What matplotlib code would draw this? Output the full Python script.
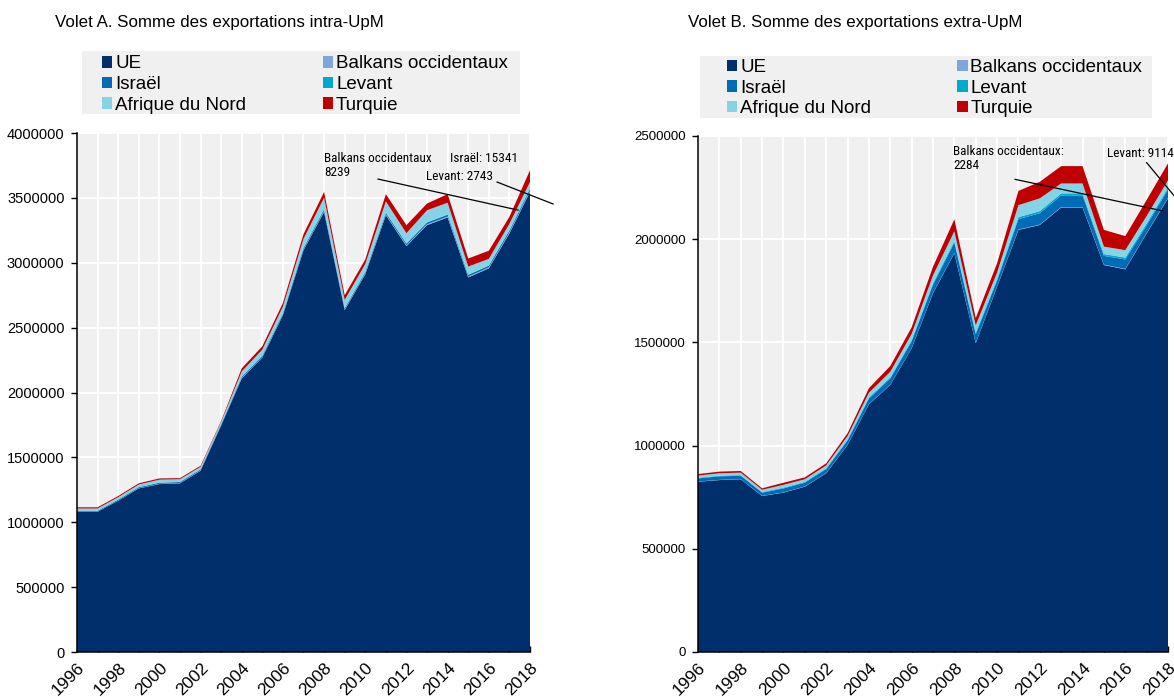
import matplotlib
matplotlib.use("Agg")
import matplotlib.pyplot as plt
from matplotlib.patches import Patch, Rectangle
from matplotlib import font_manager
import numpy as np

plt.rcParams['font.family'] = ['Liberation Sans', 'DejaVu Sans']

years = list(range(1996, 2019))
series_names = ["UE", "Balkans occidentaux", "Israël", "Levant", "Afrique du Nord", "Turquie"]
colors = ["#002F6C", "#7FA6D9", "#006BB6", "#00A9CE", "#86D3E6", "#C00000"]

# Volet A : exportations intra-UpM (milliers)
a_ue = [1081, 1081, 1166, 1261, 1294, 1300, 1397, 1745, 2108, 2270, 2596, 3097,
        3392, 2635, 2912, 3367, 3128, 3290, 3349, 2887, 2957, 3226, 3546]
a_balkans = [1.5, 1.5, 1.7, 2.0, 2.2, 2.3, 2.5, 2.8, 3.5, 4.0, 4.5, 5.5,
             6.5, 5.0, 5.5, 6.5, 6.5, 7.0, 7.5, 6.8, 7.0, 7.5, 8.239]
a_israel = [6.0, 6.0, 6.5, 7.0, 8.0, 7.5, 7.5, 8.0, 9.0, 9.5, 10.0, 11.0,
            12.0, 9.5, 10.5, 12.0, 12.5, 13.0, 13.5, 12.5, 13.0, 14.0, 15.341]
a_levant = [0.8, 0.8, 0.9, 1.0, 1.1, 1.1, 1.2, 1.3, 1.6, 1.8, 2.0, 2.3,
            2.6, 2.2, 2.4, 2.6, 2.5, 2.6, 2.7, 2.4, 2.5, 2.6, 2.743]
a_afrique = [17, 17, 18, 20, 23, 21, 19, 16, 40, 45, 50, 68,
             88, 62, 60, 85, 78, 92, 90, 62, 50, 50, 50]
a_turquie = [9, 9, 9, 9, 9.5, 8, 8, 7, 24, 26, 28, 36,
             45, 36, 35, 56, 62, 52, 66, 62, 63, 54, 91]

# Volet B : exportations extra-UpM (milliers)
b_ue = [825, 833, 837, 756, 772, 801, 866, 1003, 1200, 1294, 1471, 1738,
        1932, 1496, 1770, 2045, 2069, 2154, 2154, 1875, 1854, 2028, 2198]
b_balkans = [1.0, 1.0, 1.0, 1.0, 1.0, 1.0, 1.0, 1.0, 1.0, 1.0, 1.0, 1.5,
             1.5, 1.5, 1.5, 2.0, 2.0, 2.0, 2.0, 2.0, 2.0, 2.0, 2.284]
b_israel = [15, 17, 16, 15, 19.5, 18.5, 19.5, 21, 27, 30, 33, 40,
            50, 42, 28, 50, 55, 56, 56, 42, 46, 37, 40]
b_levant = [3.0, 3.0, 3.0, 3.0, 3.5, 3.5, 3.5, 4.0, 5.0, 5.5, 6.0, 7.0,
            8.0, 8.0, 7.0, 10.0, 10.0, 10.0, 10.0, 9.0, 9.0, 9.0, 9.114]
b_afrique = [11, 12, 12, 11, 14, 13, 14, 17, 23, 27, 30, 38,
             47, 35, 32, 58, 62, 48, 48, 36, 36, 36, 36]
b_turquie = [7, 8, 8, 7, 10, 9, 10, 14, 22, 28, 32, 42,
             58, 35, 45, 69, 80, 84, 84, 81, 68, 78, 82]

panel_a = [a_ue, a_balkans, a_israel, a_levant, a_afrique, a_turquie]
panel_b = [b_ue, b_balkans, b_israel, b_levant, b_afrique, b_turquie]

# Condensed face for the small call-out labels, if one is installed
installed = {f.name for f in font_manager.fontManager.ttflist}
narrow_choices = ["Liberation Sans Narrow", "DejaVu Sans Condensed", "Roboto Condensed",
                  "Open Sans Condensed", "Noto Sans Condensed"]
narrow_found = [n for n in narrow_choices if n in installed]
if narrow_found:
    narrow = [narrow_found[0], "Liberation Sans", "DejaVu Sans"]
    note_size = 9.5
else:
    narrow = ["Liberation Sans", "DejaVu Sans"]
    note_size = 8.2

W, H = 1174, 697
fig = plt.figure(figsize=(W / 100, H / 100), dpi=100)


def fig_rect(x0, y0, x1, y1):
    """Pixel box (top-left origin) -> figure fraction rect."""
    return [x0 / W, 1 - y1 / H, (x1 - x0) / W, (y1 - y0) / H]


ax_a = fig.add_axes(fig_rect(77, 133, 530, 652))
ax_b = fig.add_axes(fig_rect(698, 136, 1168, 652))


def draw_panel(ax, data, ymax, ytick_size):
    values = [np.array(s) * 1000 for s in data]
    ax.set_facecolor("#F0F0F0")
    ax.stackplot(years, *values, colors=colors, linewidth=0, zorder=3)
    ax.set_xlim(1996, 2018)
    ax.set_ylim(0, ymax)
    ax.set_xticks(years)
    ax.set_xticklabels([str(y) if (y - 1996) % 2 == 0 else "" for y in years],
                       rotation=45, ha="right", rotation_mode="anchor", fontsize=12.5)
    yt = np.arange(0, ymax + 1, 500000)
    ax.set_yticks(yt)
    ax.set_yticklabels([f"{int(v)}" for v in yt], fontsize=ytick_size)
    ax.tick_params(axis="x", direction="in", length=4, width=1, pad=6)
    ax.tick_params(axis="y", direction="out", length=4, width=1, pad=5)
    ax.grid(True, color="white", linewidth=1.4, zorder=1)
    ax.set_axisbelow(True)
    for s in ("top", "right"):
        ax.spines[s].set_visible(False)
    for s in ("left", "bottom"):
        ax.spines[s].set_color("black")
        ax.spines[s].set_linewidth(1.1)
        ax.spines[s].set_zorder(5)


draw_panel(ax_a, panel_a, 4000000, 10.5)
draw_panel(ax_b, panel_b, 2500000, 9.5)

# Titles
fig.text(55 / W, 1 - 22 / H, "Volet A. Somme des exportations intra-UpM",
         fontsize=12.2, va="center", ha="left")
fig.text(688 / W, 1 - 22 / H, "Volet B. Somme des exportations extra-UpM",
         fontsize=12.2, va="center", ha="left")

# Legends on grey bands
handles = [Patch(facecolor=c, edgecolor="none") for c in colors]
order = [0, 2, 4, 1, 3, 5]


def add_legend(box, anchor, colspacing):
    x0, y0, x1, y1 = box
    fig.patches.append(Rectangle((x0 / W, 1 - y1 / H), (x1 - x0) / W, (y1 - y0) / H,
                                 transform=fig.transFigure, facecolor="#F0F0F0",
                                 edgecolor="none", zorder=0))
    fig.legend([handles[i] for i in order], [series_names[i] for i in order],
               ncol=2, loc="upper left",
               bbox_to_anchor=(anchor[0] / W, 1 - anchor[1] / H),
               frameon=False, fontsize=13.5, handlelength=0.55, handleheight=0.55,
               handletextpad=0.15, labelspacing=0.19, columnspacing=colspacing,
               borderpad=0, borderaxespad=0)


add_legend((82, 51, 520, 114), (102, 55.5), 4.1)
add_legend((700, 56, 1152, 118), (727, 59), 4.6)

# Annotations, panel A
ax_a.text(2008.0, 3850000, "Balkans occidentaux\n8239", family=narrow, fontsize=note_size,
          va="top", ha="left", linespacing=1.05, zorder=6)
ax_a.text(2014.12, 3803000, "Israël: 15341", family=narrow, fontsize=note_size,
          va="center", ha="left", zorder=6)
ax_a.text(2012.95, 3663000, "Levant: 2743", family=narrow, fontsize=note_size,
          va="center", ha="left", zorder=6)
ax_a.plot([2010.62, 2017.42], [3645000, 3406000], color="black", lw=0.9,
          clip_on=False, zorder=6)
ax_a.plot([2016.40, 2019.12], [3622000, 3453000], color="black", lw=0.9,
          clip_on=False, zorder=6)

# Annotations, panel B
ax_b.text(2007.94, 2455000, "Balkans occidentaux:\n2284", family=narrow, fontsize=note_size,
          va="top", ha="left", linespacing=1.05, zorder=6)
ax_b.text(2015.15, 2414000, "Levant: 9114", family=narrow, fontsize=note_size,
          va="center", ha="left", zorder=6)
ax_b.plot([2010.84, 2017.76], [2290000, 2137000], color="black", lw=0.9,
          clip_on=False, zorder=6)
ax_b.plot([2017.0, 2018.45], [2371000, 2190000], color="black", lw=0.9,
          clip_on=False, zorder=6)

fig.savefig("out.png", dpi=100)
